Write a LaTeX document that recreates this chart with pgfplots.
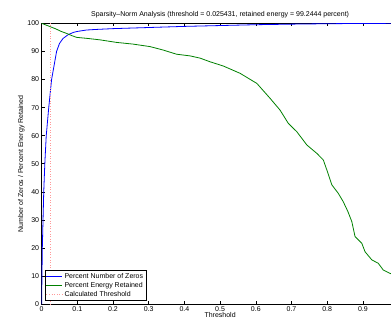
\documentclass[border=0pt]{standalone}
\usepackage{fontspec}
\setmainfont{Liberation Sans}
\usepackage{pgfplots}
\pgfplotsset{compat=1.18}
\definecolor{mblue}{rgb}{0,0,1}
\definecolor{mgreen}{rgb}{0,0.5,0}
\definecolor{mred}{rgb}{1,0.6,0.6}
\begin{document}
\begin{tikzpicture}
\begin{axis}[
  scale only axis,
  width=357pt, height=281pt,
  xmin=0, xmax=1, ymin=0, ymax=100,
  xtick={0,0.1,...,0.9},
  ytick={0,10,...,100},
  xticklabels={0,0.1,0.2,0.3,0.4,0.5,0.6,0.7,0.8,0.9},
  tick align=inside,
  major tick length=3pt,
  tick style={black, line width=0.6pt},
  axis line style={line width=1.2pt},
  ticklabel style={font=\fontsize{7}{8}\selectfont},
  /pgf/number format/assume math mode=true,
  xticklabel style={yshift=1pt},
  yticklabel style={xshift=1pt},
  title={Sparsity--Norm Analysis (threshold = 0.025431, retained energy = 99.2444 percent)},
  title style={font=\fontsize{7}{8}\selectfont, yshift=-4pt},
  xlabel={Threshold},
  ylabel={Number of Zeros / Percent Energy Retained},
  label style={font=\fontsize{7}{8}\selectfont},
  xlabel style={yshift=6pt},
  ylabel style={yshift=-4pt},
  legend cell align=left,
  legend style={at={(0,0)}, anchor=south west, xshift=3pt, yshift=3pt,
    font=\fontsize{7}{7.5}\selectfont, draw=black, line width=1pt,
    inner sep=1pt, row sep=-1.5pt},
  legend image code/.code={\draw[#1, line width=0.8pt] (0cm,0cm) -- (0.55cm,0cm);},
]
\addplot[mblue, line width=0.8pt] coordinates {
(0,0) (0.001,10) (0.002,20) (0.004,30) (0.006,40) (0.009,50) (0.013,60)
(0.02,70) (0.028,80) (0.035,85) (0.042,90) (0.05,92.8) (0.06,94.6)
(0.075,96.0) (0.09,96.8) (0.1,97.1) (0.125,97.6) (0.15,97.8) (0.2,98.1)
(0.3,98.5) (0.4,98.9) (0.5,99.2) (0.6,99.5) (0.7,99.7) (0.8,99.85)
(0.9,99.95) (1.0,100)};
\addlegendentry{Percent Number of Zeros}
\addplot[mgreen, line width=0.8pt] coordinates {
(0,100) (0.02,99.0) (0.04,98.0) (0.055,97.1) (0.070,96.4) (0.085,95.6) (0.098,95.0)
(0.13,94.6) (0.164,94.1) (0.21,93.2) (0.256,92.6) (0.304,91.7)
(0.34,90.5) (0.378,89.0) (0.416,88.4) (0.444,87.6) (0.472,86.3) (0.509,84.8)
(0.556,82.2) (0.603,78.6) (0.640,73.3) (0.668,69.1) (0.691,64.4)
(0.715,61.4) (0.743,56.7) (0.771,53.7) (0.789,51.4) (0.799,47.8)
(0.813,42.5) (0.831,39.5) (0.845,36.5) (0.858,33.0) (0.869,29.4)
(0.878,24.1) (0.897,21.7) (0.906,18.7) (0.925,15.8) (0.943,14.6)
(0.957,12.2) (0.976,11.0) (1.0,10.0)};
\addlegendentry{Percent Energy Retained}
\addplot[mred, dotted, line width=0.6pt] coordinates {(0.025431,0) (0.025431,100)};
\addlegendentry{Calculated Threshold}
\end{axis}
\pgfresetboundingbox
\useasboundingbox (-41.6pt,-22.7pt) rectangle (349.4pt,304.3pt);
\end{tikzpicture}
\end{document}
